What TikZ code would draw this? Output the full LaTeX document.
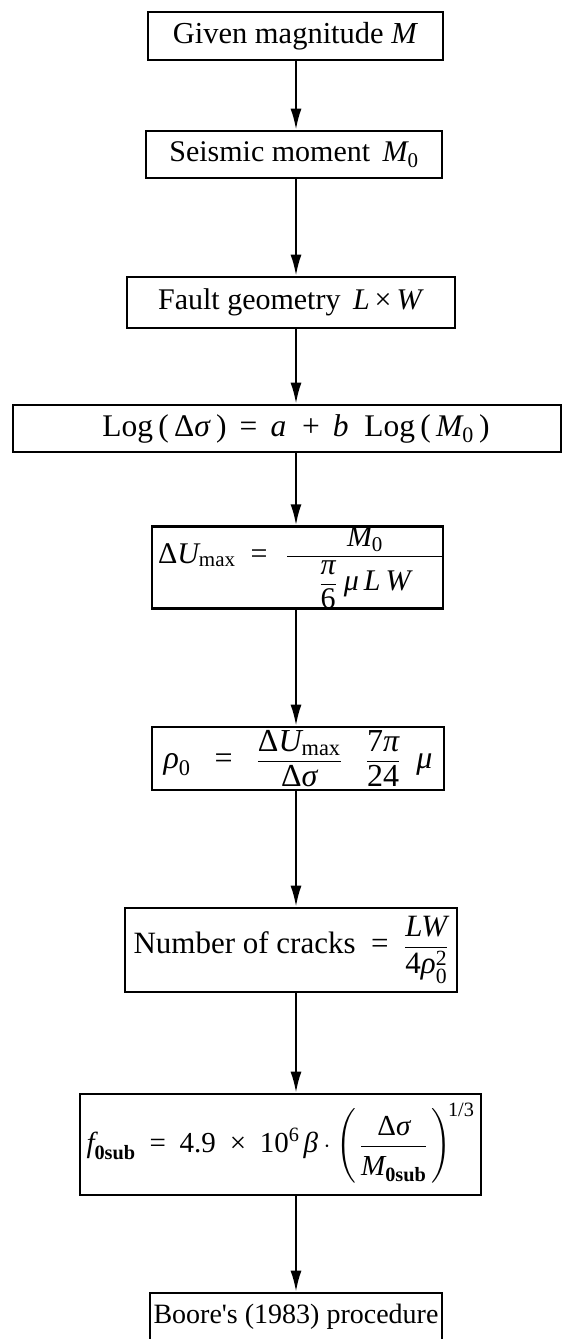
\documentclass[tikz,border=0pt]{standalone}
\usepackage{fontspec}
\setmainfont{Liberation Serif}
\usepackage{amsmath}
\usetikzlibrary{arrows.meta}
\newcommand{\iv}[1]{\text{\itshape #1}}
\newcommand{\up}[1]{\text{#1}}
\begin{document}
\begin{tikzpicture}[x=1pt,y=-1pt,
  box/.style={draw, line width=2.6pt, inner sep=0pt, font=\fontsize{30}{36}\selectfont},
  arr/.style={line width=2.2pt, -{Latex[length=21pt,width=11pt]}}]
\useasboundingbox (0,0) rectangle (569,1339);
\fill[white] (0,0) rectangle (569,1339);
\coordinate (ax) at (296,0);
\node[box, minimum width=295pt, minimum height=48pt, font=\fontsize{30.5}{36}\selectfont] (b1) at (295.5,36)
  {Given magnitude \textit{M}};
\node[box, minimum width=296pt, minimum height=47pt] (b2) at (294,154.5)
  {Seismic moment\, $\iv{M}_{\up{0}}$};
\node[box, minimum width=328pt, minimum height=51pt] (b3) at (291,302.5)
  {Fault geometry\, \textit{L}\,×\,\textit{W}};
\node[box, minimum width=548pt, minimum height=47pt, font=\fontsize{31.5}{37}\selectfont] (b4) at (287,428.5)
  {\hspace*{18pt}Log\,(\,Δ\textit{σ}\,)\, =\, \textit{a}\ \ +\, \textit{b}\ \ Log\,(\,$\iv{M}_{\up{0}}$\,)};
\node[box, minimum width=291pt, minimum height=81pt] (b5) at (297.5,567.5)
  {\makebox[291pt][s]{\hspace{6pt}$\up{Δ}\iv{U}_{\up{max}}\ \ \up{=}\ \ $\hfill$\dfrac{\iv{M}_{\up{0}}}{\makebox[156pt]{$\dfrac{\iv{π}}{\up{6}}\;\iv{μ\,L\,W}$}}$\hspace{-1.2pt}}};
\node[box, minimum width=292pt, minimum height=63pt, font=\fontsize{32}{38}\selectfont] (b6) at (298,758.5)
  {$\iv{ρ}_{\up{0}}\ \ \ \up{=}\ \ \ \dfrac{\up{Δ}\iv{U}_{\up{max}}}{\up{Δ}\iv{σ}}\ \ \ \dfrac{\up{7}\iv{π}}{\up{24}}\ \ \iv{μ}$\hspace{16pt}};
\node[box, minimum width=332pt, minimum height=84pt, font=\fontsize{31}{37}\selectfont] (b7) at (291,950)
  {Number of cracks\ \ =\ \ $\dfrac{\iv{LW}}{\up{4}\iv{ρ}^{\up{2}}_{\up{0}}}$};
\node[box, minimum width=401pt, minimum height=101pt, font=\fontsize{29}{35}\selectfont] (b8) at (280.5,1144.5)
  {$\iv{f}_{\text{\bfseries 0sub}}\;\;\up{=}\;\;\up{4.9}\;\;\up{×}\;\;\up{10}^{\up{6}}\,\iv{β}\cdot\left(\rule[-33pt]{0pt}{68pt}\,\dfrac{\up{Δ}\iv{σ}\rule[-6pt]{0pt}{6pt}}{\rule{0pt}{26pt}\iv{M}_{\text{\bfseries 0sub}}}\,\right)^{\!\up{1/3}}$};
\node[box, minimum width=292pt, minimum height=47pt, font=\fontsize{28}{34}\selectfont] (b9) at (296,1316.5)
  {Boore\textquotesingle s (1983) procedure};
\draw[arr] (b1.south -| ax) -- (b2.north -| ax);
\draw[arr] (b2.south -| ax) -- (b3.north -| ax);
\draw[arr] (b3.south -| ax) -- (b4.north -| ax);
\draw[arr] (b4.south -| ax) -- (b5.north -| ax);
\draw[arr] (b5.south -| ax) -- (b6.north -| ax);
\draw[arr] (b6.south -| ax) -- (b7.north -| ax);
\draw[arr] (b7.south -| ax) -- (b8.north -| ax);
\draw[arr] (b8.south -| ax) -- (b9.north -| ax);
\end{tikzpicture}
\end{document}
